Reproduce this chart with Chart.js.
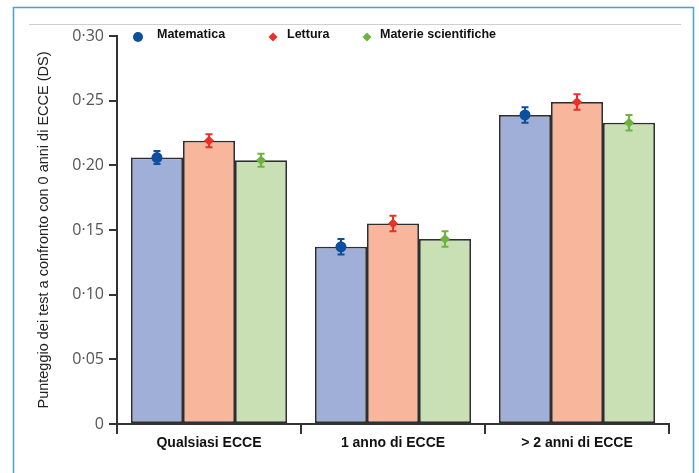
<!DOCTYPE html>
<html>
<head>
<meta charset="utf-8">
<script src="https://cdn.jsdelivr.net/npm/chart.js@4/dist/chart.umd.min.js"></script>
<style>
  html, body { margin: 0; padding: 0; background: #fff; }
  #wrap { position: relative; width: 699px; height: 473px; }
</style>
</head>
<body>
<div id="wrap"><canvas id="c" width="699" height="473"></canvas></div>
<script>
// Categories and series (standardised score difference vs 0 years of ECCE)
const categories = ['Qualsiasi ECCE', '1 anno di ECCE', '> 2 anni di ECCE'];
const seriesLabels = ['Matematica', 'Lettura', 'Materie scientifiche'];
const matematica = [0.206, 0.137, 0.239];
const lettura = [0.219, 0.155, 0.249];
const scienze = [0.204, 0.143, 0.233];
// Half-width of the confidence intervals
const matematicaErr = [0.005, 0.006, 0.006];
const letturaErr = [0.005, 0.006, 0.006];
const scienzeErr = [0.005, 0.006, 0.006];
// Y axis tick labels (0 to 0.30, step 0.05)
const yTickLabels = ['0', '0·05', '0·10', '0·15', '0·20', '0·25', '0·30'];

const barFill = ['#a0afd7', '#f8b79c', '#c9dfb4'];
const markerFill = ['#0b4f9e', '#ec2f27', '#6cb33f'];
const markerShape = ['circle', 'diamond', 'diamond'];

function drawMarker(ctx, shape, x, y, r, color) {
  ctx.save();
  ctx.fillStyle = color;
  ctx.beginPath();
  if (shape === 'circle') {
    ctx.arc(x, y, r, 0, Math.PI * 2);
  } else {
    ctx.moveTo(x, y - r);
    ctx.lineTo(x + r, y);
    ctx.lineTo(x, y + r);
    ctx.lineTo(x - r, y);
    ctx.closePath();
  }
  ctx.fill();
  ctx.restore();
}

// Page frame: blue border and thin grey rule across the top
const framePlugin = {
  id: 'frame',
  beforeDraw(chart) {
    const ctx = chart.ctx;
    ctx.save();
    ctx.fillStyle = '#ffffff';
    ctx.fillRect(0, 0, chart.width, chart.height);
    ctx.strokeStyle = '#4a9fdb';
    ctx.lineWidth = 1.5;
    ctx.strokeRect(13.5, 7.5, 680, 500);
    ctx.strokeStyle = '#cfcfcf';
    ctx.lineWidth = 1;
    ctx.beginPath();
    ctx.moveTo(29, 24.5);
    ctx.lineTo(681, 24.5);
    ctx.stroke();
    ctx.restore();
  }
};

// Error bars with a marker at each bar's value
const errorBarPlugin = {
  id: 'errorBars',
  afterDatasetsDraw(chart) {
    const ctx = chart.ctx;
    const yScale = chart.scales.y;
    chart.data.datasets.forEach((ds, i) => {
      const meta = chart.getDatasetMeta(i);
      meta.data.forEach((bar, j) => {
        const v = ds.data[j];
        const e = ds.errors[j];
        const x = bar.x;
        const yHi = yScale.getPixelForValue(v + e);
        const yLo = yScale.getPixelForValue(v - e);
        const yV = yScale.getPixelForValue(v);
        ctx.save();
        ctx.strokeStyle = ds.markerColor;
        ctx.lineWidth = 2;
        ctx.beginPath();
        ctx.moveTo(x, yHi); ctx.lineTo(x, yLo);
        ctx.moveTo(x - 3.5, yHi); ctx.lineTo(x + 3.5, yHi);
        ctx.moveTo(x - 3.5, yLo); ctx.lineTo(x + 3.5, yLo);
        ctx.stroke();
        ctx.restore();
        drawMarker(ctx, ds.markerShape, x, yV, ds.markerShape === 'circle' ? 5.5 : 5, ds.markerColor);
      });
    });
  }
};

// Legend row inside the plot area
const legendPlugin = {
  id: 'topLegend',
  afterDraw(chart) {
    const ctx = chart.ctx;
    const left = chart.chartArea.left;
    const markerX = [21, 156, 250];
    const textX = [40, 170, 263];
    ctx.save();
    ctx.font = 'bold 12.5px "Liberation Sans", Arial, sans-serif';
    ctx.fillStyle = '#111';
    ctx.textBaseline = 'middle';
    chart.data.datasets.forEach((ds, i) => {
      drawMarker(ctx, ds.markerShape, left + markerX[i], 37, ds.markerShape === 'circle' ? 5 : 4.5, ds.markerColor);
      ctx.fillText(ds.label, left + textX[i], 35);
    });
    ctx.restore();
  }
};

const values = [matematica, lettura, scienze];
const errors = [matematicaErr, letturaErr, scienzeErr];

const datasets = seriesLabels.map((label, i) => ({
  label: label,
  data: values[i],
  errors: errors[i],
  backgroundColor: barFill[i],
  borderColor: '#2e2e2e',
  borderWidth: 1.75,
  borderSkipped: false,
  markerColor: markerFill[i],
  markerShape: markerShape[i],
  categoryPercentage: 0.848,
  barPercentage: 1.0
}));

new Chart(document.getElementById('c'), {
  type: 'bar',
  data: { labels: categories, datasets: datasets },
  plugins: [framePlugin, errorBarPlugin, legendPlugin],
  options: {
    responsive: false,
    animation: false,
    devicePixelRatio: 1,
    layout: { padding: { top: 36, right: 30, left: 0, bottom: 0 } },
    plugins: {
      legend: { display: false },
      tooltip: { enabled: false }
    },
    scales: {
      x: {
        afterFit(scale) { scale.height = 49; },
        border: { display: true, color: '#333', width: 2 },
        grid: { display: true, drawOnChartArea: false, drawTicks: true, tickLength: 10, color: '#333', lineWidth: 2, offset: true },
        ticks: {
          color: '#111',
          padding: 1,
          font: { family: '"Liberation Sans", Arial, sans-serif', size: 14, weight: 'bold' }
        }
      },
      y: {
        min: 0,
        max: 0.30,
        afterFit(scale) { scale.width = 117; },
        border: { display: true, color: '#333', width: 2 },
        grid: { display: true, drawOnChartArea: false, drawTicks: true, tickLength: 8, color: '#333', lineWidth: 2 },
        ticks: {
          stepSize: 0.05,
          color: '#555',
          padding: 5,
          font: { family: '"Open Sans", sans-serif', size: 16 },
          callback: (v, i) => yTickLabels[i]
        },
        title: {
          display: true,
          text: 'Punteggio dei test a confronto con 0 anni di ECCE (DS)',
          color: '#222',
          padding: { top: 35, bottom: 0 },
          font: { family: '"Liberation Sans", Arial, sans-serif', size: 14.5 }
        }
      }
    }
  }
});
</script>
</body>
</html>
